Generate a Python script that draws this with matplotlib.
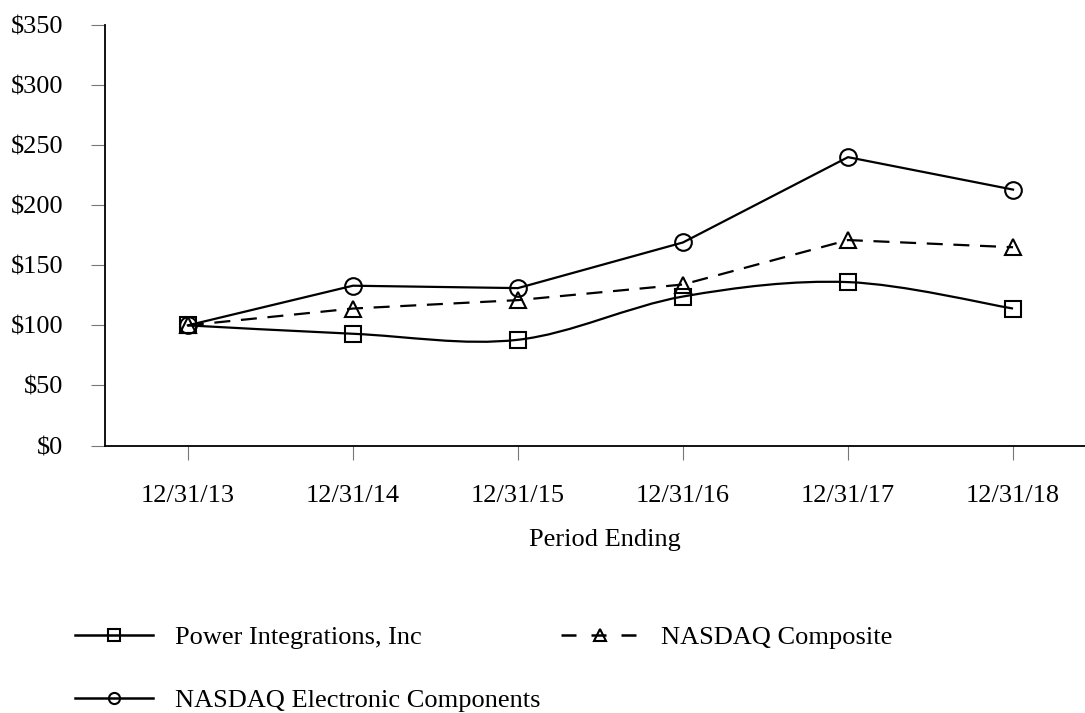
import matplotlib
matplotlib.use("Agg")
import matplotlib.pyplot as plt
from matplotlib.path import Path
from matplotlib.patches import PathPatch
from matplotlib.lines import Line2D
import numpy as np

periods = ["12/31/13", "12/31/14", "12/31/15", "12/31/16", "12/31/17", "12/31/18"]
power_integrations = [100, 93, 88, 124, 136, 114]
nasdaq_composite = [100, 114, 121, 134, 171, 165]
nasdaq_electronic = [100, 133, 131, 169, 240, 213]
y_ticks = [0, 50, 100, 150, 200, 250, 300, 350]

plt.rcParams['font.family'] = ['Liberation Serif', 'DejaVu Serif']
plt.rcParams['font.size'] = 19


def smooth_path(xs, ys):
    """Catmull-Rom style bezier through the points (smoothed line)."""
    pts = np.column_stack([xs, ys]).astype(float)
    verts = [pts[0]]
    codes = [Path.MOVETO]
    n = len(pts)
    for i in range(n - 1):
        p0 = pts[i - 1] if i > 0 else pts[i]
        p1 = pts[i]
        p2 = pts[i + 1]
        p3 = pts[i + 2] if i + 2 < n else pts[i + 1]
        c1 = p1 + (p2 - p0) / 6.0
        c2 = p2 - (p3 - p1) / 6.0
        verts += [c1, c2, p2]
        codes += [Path.CURVE4] * 3
    return Path(verts, codes)


fig = plt.figure(figsize=(10.85, 7.13), dpi=100)
ax = fig.add_axes([105 / 1085, 1 - 445.5 / 713, 980 / 1085, 420.5 / 713])

x = np.arange(len(periods))
mk = dict(markersize=12, markerfacecolor='none', markeredgecolor='black', markeredgewidth=1.5)

# Power Integrations drawn as a smoothed curve
ax.add_patch(PathPatch(smooth_path(x, power_integrations), facecolor='none',
                       edgecolor='black', lw=1.6, zorder=2))
ax.plot(x, power_integrations, linestyle='none', marker='s', zorder=3, **mk)
ax.plot(x, nasdaq_composite, color='black', lw=1.6, dashes=(7.2, 4.8), marker='^', zorder=3, **mk)
ax.plot(x, nasdaq_electronic, color='black', lw=1.6, marker='o', zorder=3, **mk)

ax.set_xlim(-0.502, 5.436)
ax.set_ylim(0, 350)
ax.set_xticks(x)
ax.set_xticklabels(periods)
ax.set_yticks(y_ticks)
ax.set_yticklabels([f"${v}" for v in y_ticks])

for s in ['top', 'right']:
    ax.spines[s].set_visible(False)
for s in ['left', 'bottom']:
    ax.spines[s].set_linewidth(1.3)
ax.tick_params(axis='both', direction='out', length=10, width=0.8, color='#777777')
ax.tick_params(axis='y', pad=20)
ax.tick_params(axis='x', pad=18.5)

ax.set_xlabel("Period Ending")
ax.xaxis.set_label_coords((605 - 105) / 980, (445.5 - 540) / 420.5)
ax.xaxis.label.set_verticalalignment('center')

lmk = dict(markersize=8, markerfacecolor='none', markeredgecolor='black', markeredgewidth=1.5)
handles = [
    Line2D([], [], color='black', lw=1.8, marker='s', **lmk),
    Line2D([], [], color='black', lw=1.8, marker='o', **lmk),
    Line2D([], [], color='black', lw=1.8, dashes=(6, 6), marker='^', **lmk),
]
labels = ["Power Integrations, Inc", "NASDAQ Electronic Components", "NASDAQ Composite"]
fig.legend(handles, labels, loc='upper left', bbox_to_anchor=(75 / 1085, 1 - 626 / 713),
           ncol=2, frameon=False, borderpad=0, borderaxespad=0, handlelength=2.95,
           handletextpad=0.83, labelspacing=1.48, columnspacing=0.8, fontsize=19)

plt.savefig('out.png', dpi=100)
plt.close()
